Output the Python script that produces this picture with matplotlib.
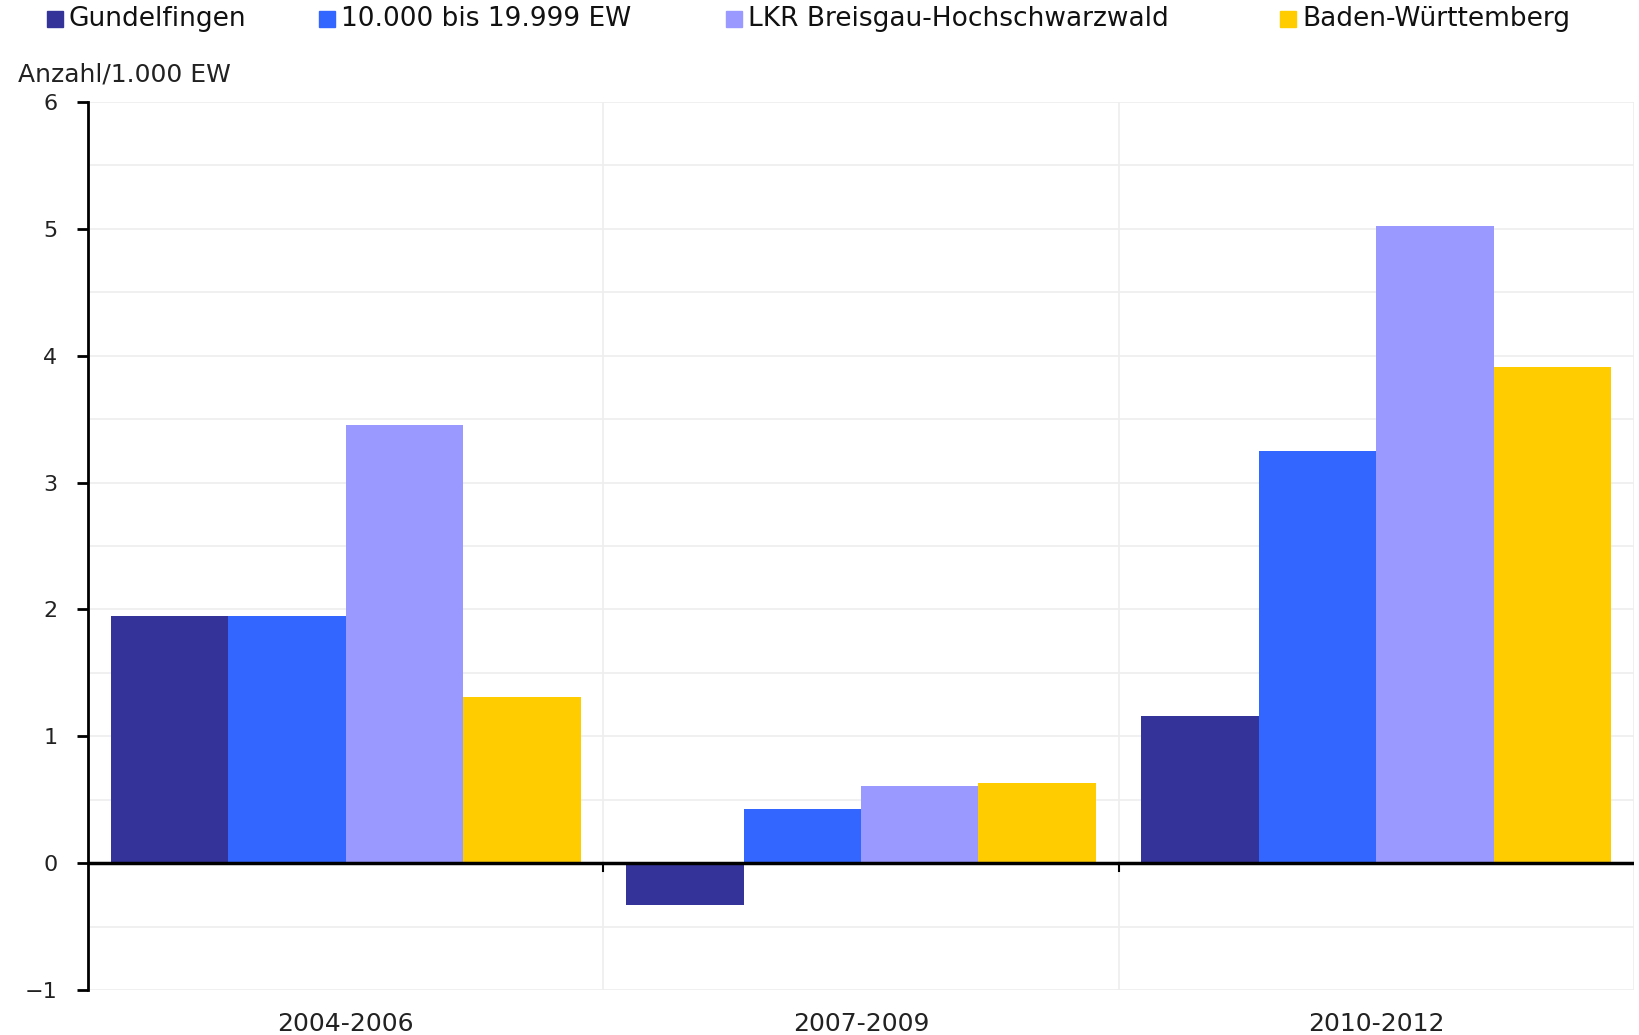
import matplotlib.pyplot as plt
import numpy as np

periods = ["2004-2006", "2007-2009", "2010-2012"]
series = ["Gundelfingen", "10.000 bis 19.999 EW", "LKR Breisgau-Hochschwarzwald", "Baden-Württemberg"]
gundelfingen = [1.95, -0.33, 1.16]
ew_10_20k = [1.95, 0.43, 3.25]
lkr_breisgau = [3.45, 0.61, 5.02]
baden_wuerttemberg = [1.31, 0.63, 3.91]
values = [gundelfingen, ew_10_20k, lkr_breisgau, baden_wuerttemberg]
colors = ["#333399", "#3366FF", "#9999FF", "#FFCC00"]

W, H = 1639, 1035
fig = plt.figure(figsize=(W / 100, H / 100), dpi=100)
ax = fig.add_axes([88/W, 1 - 990/H, (1634-88)/W, (990-102)/H])

x = np.arange(len(periods))
w = 0.228
for i, (vals, c) in enumerate(zip(values, colors)):
    ax.bar(x + (i - 1.5) * w, vals, w, color=c, zorder=2)

ax.set_xlim(-0.5, 2.5)
ax.set_ylim(-1, 6)
ax.set_yticks(range(-1, 7))
ax.set_yticklabels([str(v) if v >= 0 else "\u22121" for v in range(-1, 7)])
ax.set_yticks(np.arange(-1, 6.01, 0.5), minor=True)
ax.tick_params(axis="y", which="minor", length=0)
ax.tick_params(axis="y", which="major", length=8, width=2, labelsize=16, pad=14,
               labelcolor="#222222")
ax.grid(axis="y", which="both", color="#eeeeee", lw=1.2, zorder=0)

# separators between the groups
for b in [0.5, 1.5, 2.5]:
    ax.axvline(b, color="#eeeeee", lw=1.2, zorder=0)
ax.axhline(0, color="black", lw=2.5, zorder=3)
ax.set_xticks(x)
ax.set_xticklabels(periods, fontsize=18, color="#222222")
ax.tick_params(axis="x", length=0, pad=16)
for b in [0.5, 1.5]:
    ax.plot([b, b], [0, -0.06], color="black", lw=1.5, zorder=3, clip_on=False)

for s in ["top", "right", "bottom"]:
    ax.spines[s].set_visible(False)
ax.spines["left"].set_linewidth(2)

fig.text(18/W, 1 - 75/H, "Anzahl/1.000 EW", fontsize=18, va="center", ha="left",
         color="#222222")

# legend entries in one row across the top
legend_x = [47, 319, 726, 1280]
for name, c, lx in zip(series, colors, legend_x):
    fig.add_artist(plt.Line2D([(lx + 8) / W], [1 - 19/H], marker="s", ls="",
                              color=c, markersize=12, transform=fig.transFigure))
    fig.text((lx + 22) / W, 1 - 19/H, name, fontsize=19, va="center", ha="left",
             color="#111111")

fig.savefig("out.png", dpi=100, facecolor="white")
